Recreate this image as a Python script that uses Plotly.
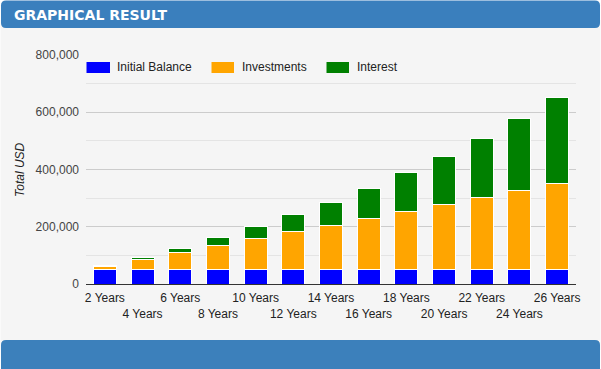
import plotly.graph_objects as go

categories = ["2 Years", "4 Years", "6 Years", "8 Years", "10 Years", "12 Years", "14 Years",
              "16 Years", "18 Years", "20 Years", "22 Years", "24 Years", "26 Years"]
initial_balance = [50000] * 13
investments = [12000, 36000, 60000, 84000, 108000, 132000, 156000,
               180000, 204000, 228000, 252000, 276000, 300000]
interest = [3000, 7000, 15000, 29500, 44000, 61000, 79000,
            104000, 136500, 168500, 208000, 250500, 300000]
series_names = ["Initial Balance", "Investments", "Interest"]
series_colors = ["#0000ff", "#ffa500", "#008000"]
y_ticks = [0, 200000, 400000, 600000, 800000]

W, H = 601, 369
L, R, T, B = 86, 25, 55, 85
PW, PH = W - L - R, H - T - B


def px(x):
    return (x - L) / PW


def py(y):
    return (H - B - y) / PH


def rrect(x0, y0, x1, y1, r):
    pts = []
    pts.append(f"M{px(x0 + r)},{py(y0)}")
    pts.append(f"L{px(x1 - r)},{py(y0)}")
    pts.append(f"Q{px(x1)},{py(y0)} {px(x1)},{py(y0 + r)}")
    pts.append(f"L{px(x1)},{py(y1 - r)}")
    pts.append(f"Q{px(x1)},{py(y1)} {px(x1 - r)},{py(y1)}")
    pts.append(f"L{px(x0 + r)},{py(y1)}")
    pts.append(f"Q{px(x0)},{py(y1)} {px(x0)},{py(y1 - r)}")
    pts.append(f"L{px(x0)},{py(y0 + r)}")
    pts.append(f"Q{px(x0)},{py(y0)} {px(x0 + r)},{py(y0)}Z")
    return " ".join(pts)


fig = go.Figure()
for name, vals, col in zip(series_names, [initial_balance, investments, interest], series_colors):
    fig.add_trace(go.Bar(x=categories, y=vals, name=name, marker=dict(color=col, line=dict(color="white", width=1)),
                         showlegend=False))

ticktext = [c if i % 2 == 0 else "<br>" + c for i, c in enumerate(categories)]

shapes = [
    dict(type="rect", xref="paper", yref="paper", x0=px(0.5), x1=px(600.5), y0=py(20), y1=py(350),
         fillcolor="#f5f5f5", line=dict(width=0), layer="below"),
    dict(type="path", xref="paper", yref="paper", path=rrect(1, 0.5, 600, 28, 5),
         fillcolor="#3a7fbd", line=dict(width=0), layer="above"),
    dict(type="path", xref="paper", yref="paper", path=rrect(1, 340, 600, 376, 5),
         fillcolor="#3c80bb", line=dict(width=0), layer="above"),
]
annotations = [
    dict(text="<b>GRAPHICAL RESULT</b>", xref="paper", yref="paper", x=px(12), y=py(15),
         xanchor="left", yanchor="middle", showarrow=False,
         font=dict(family="DejaVu Sans", size=14, color="white")),
    dict(text="<i>Total USD</i>", xref="paper", yref="paper", x=px(20), y=py(170),
         xanchor="center", yanchor="middle", showarrow=False, textangle=-90,
         font=dict(family="Liberation Sans, Arial", size=12, color="#222222")),
]
leg_x = [(86.5, 110, 115), (211.5, 234, 240), (326.5, 349, 355)]
for (sx0, sx1, tx), name, col in zip(leg_x, series_names, series_colors):
    shapes.append(dict(type="rect", xref="paper", yref="paper", x0=px(sx0), x1=px(sx1), y0=py(73), y1=py(62),
                       fillcolor=col, line=dict(width=0)))
    annotations.append(dict(text=name, xref="paper", yref="paper", x=px(tx), y=py(67.5),
                            xanchor="left", yanchor="middle", showarrow=False,
                            font=dict(family="Liberation Sans, Arial", size=12, color="#222222")))

fig.update_layout(
    width=W, height=H,
    margin=dict(l=L, r=R, t=T, b=B),
    paper_bgcolor="white", plot_bgcolor="rgba(0,0,0,0)",
    barmode="stack", bargap=0.39,
    font=dict(family="Liberation Sans, Arial", size=12, color="#444444"),
    shapes=shapes, annotations=annotations,
    xaxis=dict(tickmode="array", tickvals=categories, ticktext=ticktext, showgrid=False, tickangle=0,
               ticklabelstandoff=3,
               showline=True, linecolor="#333333", linewidth=1, ticks="", tickfont=dict(size=12, color="#222222")),
    yaxis=dict(range=[0, 800000], tickvals=y_ticks, tickformat=",d", gridcolor="#cccccc",
               ticklabelstandoff=6,
               zeroline=False, showline=False, ticks="", tickfont=dict(size=12, color="#444444"),
               minor=dict(dtick=100000, showgrid=True, gridcolor="#e4e4e4")),
)
fig.write_html("out.html", config={"displayModeBar": False},
               post_script="document.body.style.margin='0';document.body.style.padding='0';")
